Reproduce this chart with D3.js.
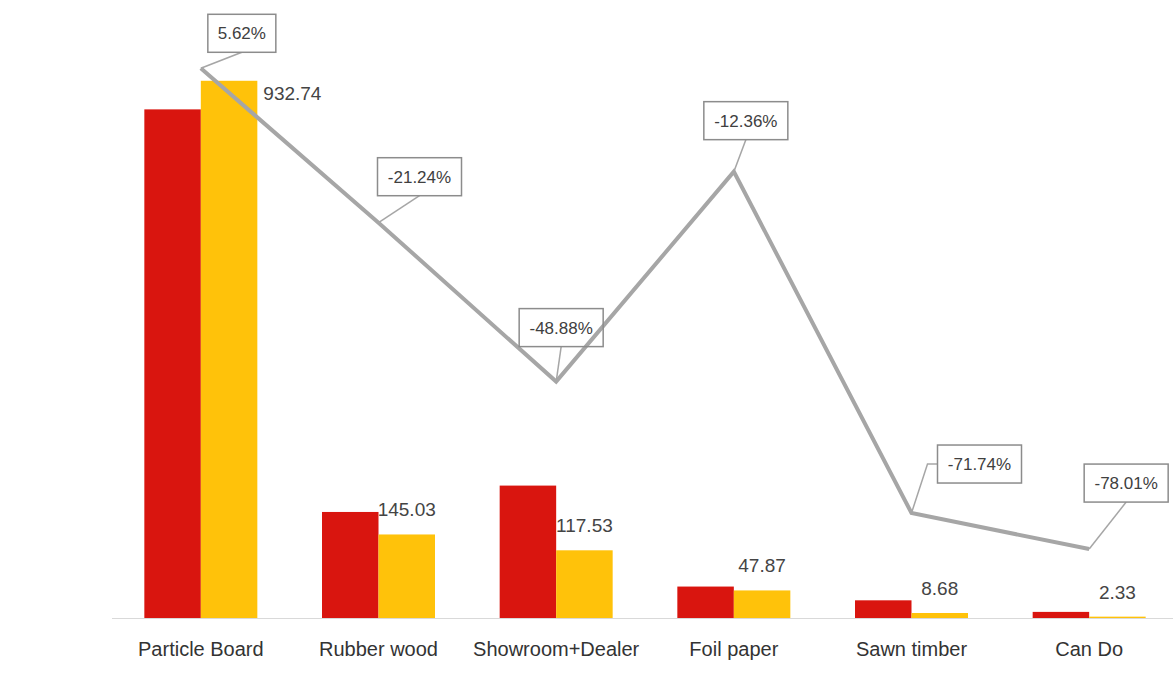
<!DOCTYPE html>
<html>
<head>
<meta charset="utf-8">
<script src="https://cdn.jsdelivr.net/npm/d3@7"></script>
<style>
  html, body { margin: 0; padding: 0; background: #fff; }
  text { font-family: "Liberation Sans", Arial, sans-serif; }
</style>
</head>
<body>
<div id="chart"></div>
<script>
const categories = ["Particle Board", "Rubber wood", "Showroom+Dealer", "Foil paper", "Sawn timber", "Can Do"];
const prevValues = [883.1, 184.1, 229.9, 54.6, 30.7, 10.6];
const currValues = [932.74, 145.03, 117.53, 47.87, 8.68, 2.33];
const growth = [5.62, -21.24, -48.88, -12.36, -71.74, -78.01];
const growthLabels = ["5.62%", "-21.24%", "-48.88%", "-12.36%", "-71.74%", "-78.01%"];

const width = 1173, height = 681;
const baseY = 618;

const svg = d3.select("#chart")
  .append("svg")
  .attr("width", width)
  .attr("height", height);

const x = d3.scaleBand()
  .domain(categories)
  .range([112, 1178])
  .paddingInner(0.364)
  .paddingOuter(0.182);

const x1 = d3.scaleBand()
  .domain(["prev", "curr"])
  .range([0, x.bandwidth()]);

const y = d3.scaleLinear().domain([0, 1073]).range([baseY, 0]);
const y2 = d3.scaleLinear().domain([-90, 17.5]).range([baseY, 0]);

const color = d3.scaleOrdinal()
  .domain(["prev", "curr"])
  .range(["#d9150f", "#ffc20a"]);

const data = categories.map((c, i) => ({
  cat: c, prev: prevValues[i], curr: currValues[i], growth: growth[i], label: growthLabels[i]
}));

const cx = d => x(d.cat) + x.bandwidth() / 2;

// axis line + category labels
const xAxis = svg.append("g")
  .attr("transform", `translate(0,${baseY})`)
  .call(d3.axisBottom(x).tickSize(0).tickPadding(24));
xAxis.select(".domain").remove();
xAxis.selectAll("text")
  .attr("font-size", 20)
  .attr("fill", "#333")
  .attr("font-family", "Liberation Sans, Arial, sans-serif");

svg.append("line")
  .attr("x1", 112).attr("x2", width)
  .attr("y1", baseY + 0.5).attr("y2", baseY + 0.5)
  .attr("stroke", "#d9d9d9").attr("stroke-width", 1);

// bars
const groups = svg.selectAll(".grp").data(data).enter()
  .append("g").attr("class", "grp")
  .attr("transform", d => `translate(${x(d.cat)},0)`);

groups.selectAll("rect")
  .data(d => [{k: "prev", v: d.prev}, {k: "curr", v: d.curr}])
  .enter().append("rect")
  .attr("x", d => x1(d.k))
  .attr("width", x1.bandwidth())
  .attr("y", d => y(d.v))
  .attr("height", d => baseY - y(d.v))
  .attr("fill", d => color(d.k));

// value labels
svg.selectAll(".val").data(data).enter()
  .append("text").attr("class", "val")
  .attr("x", (d, i) => i === 0 ? x(d.cat) + x.bandwidth() + 6 : x(d.cat) + x1("curr") + x1.bandwidth() / 2)
  .attr("y", (d, i) => i === 0 ? y(d.curr) + 19 : y(d.curr) - 18)
  .attr("text-anchor", (d, i) => i === 0 ? "start" : "middle")
  .attr("font-size", 19)
  .attr("fill", "#444")
  .text(d => d3.format(".2f")(d.curr));

// growth line
const line = d3.line().x(d => cx(d)).y(d => y2(d.growth));
svg.append("path")
  .datum(data)
  .attr("d", line)
  .attr("fill", "none")
  .attr("stroke", "#a6a6a6")
  .attr("stroke-width", 4)
  .attr("stroke-linejoin", "miter");

// callouts: box offset from the point (dx, dy = box centre)
const callout = [
  {dx: 41, dy: -35, elbow: false},
  {dx: 41, dy: -46, elbow: false},
  {dx: 5, dy: -54, elbow: false},
  {dx: 12, dy: -51, elbow: false},
  {dx: 68, dy: -49, elbow: true},
  {dx: 37, dy: -66, elbow: false}
];

const co = svg.selectAll(".co").data(data).enter()
  .append("g").attr("class", "co");

co.each(function(d, i) {
  const g = d3.select(this);
  const px = cx(d), py = y2(d.growth);
  const c = callout[i];
  const bw = i === 0 ? 68 : 84, bh = 38;
  const bx = px + c.dx - bw / 2, by = py + c.dy - bh / 2;

  let pts;
  if (c.elbow) {
    pts = [[px, py], [bx - 10, by + bh / 2], [bx, by + bh / 2]];
  } else {
    pts = [[px, py], [px + c.dx, by + bh]];
  }
  g.append("path")
    .attr("d", d3.line()(pts))
    .attr("fill", "none")
    .attr("stroke", "#a6a6a6")
    .attr("stroke-width", 1.5);

  g.append("rect")
    .attr("x", bx).attr("y", by)
    .attr("width", bw).attr("height", bh)
    .attr("fill", "#fff")
    .attr("fill-opacity", i === 2 ? 0 : 1)
    .attr("stroke", "#8c8c8c")
    .attr("stroke-width", 1.5);

  g.append("text")
    .attr("x", bx + bw / 2)
    .attr("y", by + bh / 2 + 6)
    .attr("text-anchor", "middle")
    .attr("font-size", 17)
    .attr("fill", "#404040")
    .text(d.label);
});
</script>
</body>
</html>
